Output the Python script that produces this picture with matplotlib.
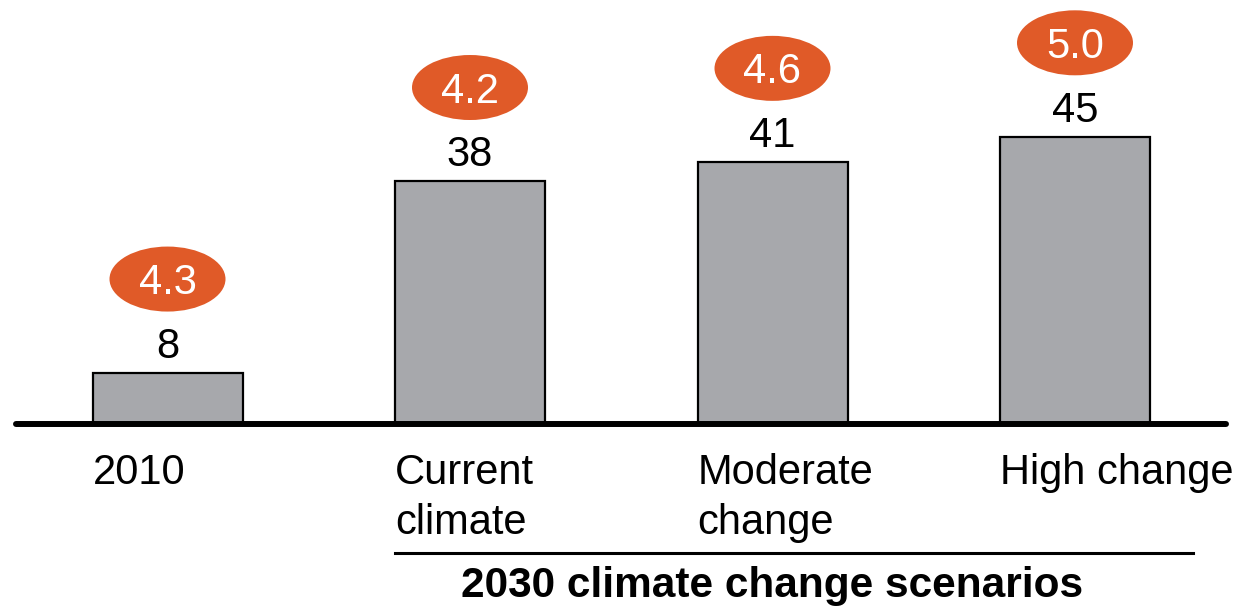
import numpy as np
import matplotlib
matplotlib.use("Agg")
import matplotlib.pyplot as plt
from matplotlib.patches import Ellipse

# Dados do gráfico
categorias = ["2010", "Current\nclimate", "Moderate\nchange", "High change"]
valores = [8, 38, 41, 45]
bolhas = ["4.3", "4.2", "4.6", "5.0"]
titulo_grupo = "2030 climate change scenarios"

cor_barra = "#a7a8ac"
cor_bolha = "#e05a28"

plt.rcParams["font.family"] = ["Liberation Sans", "DejaVu Sans"]

fig = plt.figure(figsize=(12.44, 6.07), dpi=100)
ax = fig.add_axes([0, 0, 1, 1])

# escala: 302.5 px entre barras, 6.385 px por unidade
px_x = 302.5
px_y = 6.385
x = np.arange(len(categorias))
ax.set_xlim(-167.5 / px_x, (1244 - 167.5) / px_x)
ax.set_ylim(-183 / px_y, 424 / px_y)
ax.axis("off")

largura = 150 / px_x
ax.bar(x, valores, largura, color=cor_barra, edgecolor="black", linewidth=1.6, zorder=2)

# linha de base
ax.plot([-0.5, len(x) - 0.5], [0, 0], color="black", lw=4.3,
        solid_capstyle="round", zorder=3)

# rótulos de valor e bolhas
offset_bolha = 14.7
for i, v in enumerate(valores):
    ax.text(i, v + 15 / px_y, str(v), ha="center", va="baseline",
            fontsize=30, color="black")
    yc = v + offset_bolha
    ax.add_patch(Ellipse((i, yc), 116 / px_x, 65 / px_y,
                         facecolor=cor_bolha, edgecolor="none", zorder=3))
    ax.text(i, yc - 15 / px_y, bolhas[i], ha="center", va="baseline",
            fontsize=30, color="white", zorder=4)

# rótulos das categorias
for i, cat in enumerate(categorias):
    ax.text(i - largura / 2, -29 / px_y, cat, ha="left", va="top",
            fontsize=30, color="black", linespacing=1.32)

# linha do grupo de cenários
y_grupo = -129 / px_y
ax.plot([1 - largura / 2, 3.39], [y_grupo, y_grupo], color="black", lw=2.2)
ax.text(2, -173 / px_y, titulo_grupo, ha="center", va="baseline",
        fontsize=30.5, fontweight="bold", color="black")

plt.savefig("out.png", dpi=100)
